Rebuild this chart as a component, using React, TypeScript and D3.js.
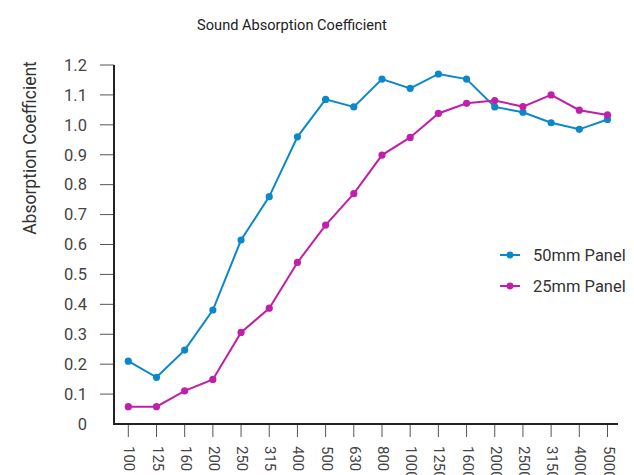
import * as d3 from "d3";

const frequencies = [
  "100", "125", "160", "200", "250", "315", "400", "500", "630",
  "800", "1000", "1250", "1600", "2000", "2500", "3150", "4000", "5000",
];

const panel50 = [
  0.21, 0.156, 0.247, 0.381, 0.615, 0.76, 0.96, 1.085, 1.06,
  1.153, 1.122, 1.17, 1.153, 1.06, 1.042, 1.007, 0.985, 1.018,
];

const panel25 = [
  0.058, 0.058, 0.111, 0.149, 0.306, 0.387, 0.54, 0.665, 0.77,
  0.899, 0.958, 1.038, 1.072, 1.081, 1.061, 1.1, 1.049, 1.033,
];

const yTicks = [0.1, 0.2, 0.3, 0.4, 0.5, 0.6, 0.7, 0.8, 0.9, 1.0, 1.1, 1.2];

const series = [
  { name: "50mm Panel", values: panel50, color: "#0b88ca" },
  { name: "25mm Panel", values: panel25, color: "#c11fa9" },
];

const FONT = "Roboto, 'DejaVu Sans', sans-serif";

export default function App() {
  const width = 634;
  const height = 475;
  const left = 114;
  const right = 618;
  const top = 65;
  const bottom = 424;

  const x = d3
    .scalePoint<string>()
    .domain(frequencies)
    .range([128.3, 607.5]);

  const y = d3.scaleLinear().domain([0, 1.2]).range([bottom, top]);

  const line = d3
    .line<number>()
    .x((_, i) => x(frequencies[i]) as number)
    .y((d) => y(d));

  return (
    <svg
      width={width}
      height={height}
      style={{ position: "fixed", left: 0, top: 0, background: "#fff" }}
      fontFamily={FONT}
    >
      <text x={292} y={30} textAnchor="middle" fontSize={14.6} fill="#222">
        Sound Absorption Coefficient
      </text>

      <text
        transform={`translate(36,148) rotate(-90)`}
        textAnchor="middle"
        fontSize={17.5}
        fill="#333"
      >
        Absorption Coefficient
      </text>

      {/* y ticks */}
      {yTicks.map((t) => (
        <g key={t}>
          <line x1={100} x2={left} y1={y(t)} y2={y(t)} stroke="#555" strokeWidth={1} />
          <text
            x={87}
            y={y(t)}
            dy="0.35em"
            textAnchor="end"
            fontSize={16.5}
            fill="#444"
          >
            {d3.format(".1f")(t)}
          </text>
        </g>
      ))}
      <text x={87} y={y(0)} dy="0.35em" textAnchor="end" fontSize={16.5} fill="#444">
        0
      </text>

      {/* x ticks */}
      {frequencies.map((f) => (
        <g key={f}>
          <line
            x1={x(f)}
            x2={x(f)}
            y1={bottom}
            y2={437}
            stroke="#555"
            strokeWidth={1}
          />
          <text
            transform={`translate(${x(f)},446) rotate(90)`}
            dominantBaseline="middle"
            fontSize={15}
            fill="#444"
          >
            {f}
          </text>
        </g>
      ))}

      {/* axes */}
      <path
        d={`M${left},${top}V${bottom}H${right}`}
        fill="none"
        stroke="#222"
        strokeWidth={2}
      />

      {/* series */}
      {series.map((s) => (
        <g key={s.name}>
          <path d={line(s.values) ?? ""} fill="none" stroke={s.color} strokeWidth={2} />
          {s.values.map((v, i) => (
            <circle key={i} cx={x(frequencies[i])} cy={y(v)} r={3.6} fill={s.color} />
          ))}
        </g>
      ))}

      {/* legend */}
      {series.map((s, i) => (
        <g key={s.name} transform={`translate(500,${255 + i * 31})`}>
          <line x1={0} x2={20} y1={0} y2={0} stroke={s.color} strokeWidth={2} />
          <circle cx={10} cy={0} r={3.4} fill={s.color} />
          <text x={33} y={0} dy="0.35em" fontSize={16.5} fill="#333">
            {s.name}
          </text>
        </g>
      ))}
    </svg>
  );
}
